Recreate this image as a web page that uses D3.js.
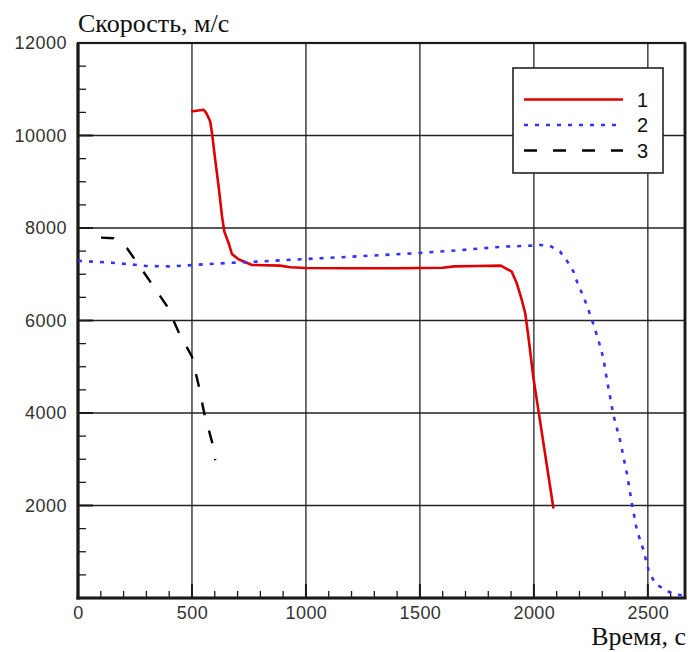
<!DOCTYPE html>
<html>
<head>
<meta charset="utf-8">
<script src="https://cdn.jsdelivr.net/npm/d3@7/dist/d3.min.js"></script>
<style>
  html, body { margin: 0; padding: 0; background: #fff; }
  svg { display: block; }
</style>
</head>
<body>
<svg id="chart" width="689" height="652"></svg>
<script>
// Time (s) / speed (m/s) samples for the three trajectories
const series1 = [
  [496, 10520], [551, 10556], [563, 10485], [580, 10303], [588, 10052],
  [602, 9474], [617, 8896], [632, 8247], [642, 7922], [661, 7671],
  [675, 7439], [704, 7325], [763, 7201], [887, 7186], [931, 7150],
  [1000, 7135], [1200, 7130], [1400, 7130], [1600, 7140], [1650, 7170],
  [1750, 7180], [1855, 7186], [1903, 7056], [1925, 6805], [1947, 6444],
  [1962, 6156], [1976, 5649], [1998, 4760], [2086, 1935]
];
const series2 = [
  [0, 7290], [150, 7250], [300, 7180], [400, 7170], [507, 7200],
  [600, 7230], [785, 7273], [1000, 7330], [1200, 7380], [1500, 7460],
  [1677, 7522], [1867, 7597], [1998, 7619], [2028, 7634], [2071, 7615],
  [2115, 7489], [2145, 7290], [2174, 7056], [2189, 6840], [2211, 6589],
  [2232, 6335], [2261, 5920], [2283, 5578], [2305, 5182], [2320, 4730],
  [2349, 3955], [2378, 3413], [2408, 2693], [2430, 2043], [2452, 1465],
  [2481, 1032], [2503, 600], [2532, 312], [2568, 203], [2605, 95], [2649, 58]
];
const series3 = [
  [101, 7792], [156, 7779], [215, 7563], [317, 6840], [390, 6314],
  [441, 5758], [500, 5216], [529, 4604], [554, 3991], [588, 3377], [602, 2980]
];

const xTickLabels = [0, 500, 1000, 1500, 2000, 2500];
const yTickLabels = [2000, 4000, 6000, 8000, 10000, 12000];
const legendLabels = ["1", "2", "3"];
const yTitle = "Скорость, м/с";
const xTitle = "Время, с";

const svg = d3.select("#chart");
const plotL = 78, plotR = 685, plotT = 43, plotB = 598;

const x = d3.scaleLinear().domain([0, 2663]).range([plotL, plotR]);
const y = d3.scaleLinear().domain([0, 12000]).range([plotB, plotT]);

const ink = "#1a1a1a";
const sans = "Liberation Sans, Arial, sans-serif";
const serif = "Liberation Serif, Times New Roman, serif";

// Grid
const grid = svg.append("g").attr("stroke", "#222").attr("stroke-width", 1.3);
d3.range(500, 2600, 500).forEach(v => {
  grid.append("line").attr("x1", x(v)).attr("x2", x(v)).attr("y1", plotT).attr("y2", plotB);
});
d3.range(2000, 12000, 2000).forEach(v => {
  grid.append("line").attr("x1", plotL).attr("x2", plotR).attr("y1", y(v)).attr("y2", y(v));
});

// Tick labels
const xAxis = d3.axisBottom(x).tickValues(xTickLabels).tickSize(0).tickPadding(8)
  .tickFormat(d3.format("d"));
const gx = svg.append("g").attr("transform", `translate(0,${plotB})`).call(xAxis);
gx.select(".domain").remove();
gx.selectAll("text").attr("font-family", sans)
  .attr("font-size", 18).attr("letter-spacing", 0.4).attr("fill", "#333");

const gy = svg.append("g").attr("transform", `translate(${plotL},0)`)
  .call(d3.axisLeft(y).tickValues(yTickLabels).tickSize(0).tickPadding(11).tickFormat(d3.format("d")));
gy.select(".domain").remove();
gy.selectAll("text").attr("font-family", sans)
  .attr("font-size", 18).attr("letter-spacing", 0.5).attr("fill", "#333");

// Minor / major ticks pointing inward
const ticks = svg.append("g").attr("stroke", ink).attr("stroke-width", 1.3);
d3.range(100, 2663, 100).forEach(v => {
  const major = v % 500 === 0;
  ticks.append("line").attr("x1", x(v)).attr("x2", x(v)).attr("y1", plotB).attr("y2", plotB - (major ? 14 : 7))
    .attr("stroke-width", major ? 2 : 1.3);
});
d3.range(500, 12000, 500).forEach(v => {
  const major = v % 2000 === 0;
  ticks.append("line").attr("x1", plotL).attr("x2", plotL + (major ? 15 : 8)).attr("y1", y(v)).attr("y2", y(v))
    .attr("stroke-width", major ? 2 : 1.3);
});

// Frame
svg.append("rect").attr("x", plotL).attr("y", plotT).attr("width", plotR - plotL).attr("height", plotB - plotT)
  .attr("fill", "none").attr("stroke", ink).attr("stroke-width", 2.2);
svg.append("line").attr("x1", plotL).attr("x2", plotL).attr("y1", plotT).attr("y2", plotB + 1.5)
  .attr("stroke", ink).attr("stroke-width", 3.2);
svg.append("line").attr("x1", plotL - 1.5).attr("x2", plotR + 1.5).attr("y1", plotB).attr("y2", plotB)
  .attr("stroke", ink).attr("stroke-width", 3.2);
svg.append("line").attr("x1", plotR).attr("x2", plotR).attr("y1", plotT).attr("y2", plotB)
  .attr("stroke", ink).attr("stroke-width", 2.8);

// Curves
const line = d3.line().x(d => x(d[0])).y(d => y(d[1]));
const styles = [
  { data: series1, color: "#dd0000", dash: null, width: 2.6 },
  { data: series2, color: "#3333ff", dash: "4,7", width: 2.6 },
  { data: series3, color: "#000000", dash: "13,16", width: 2.4 }
];
const curves = svg.append("g");
styles.forEach(s => {
  curves.append("path").datum(s.data).attr("d", line)
    .attr("fill", "none").attr("stroke", s.color).attr("stroke-width", s.width)
    .attr("stroke-dasharray", s.dash).attr("stroke-linejoin", "round");
});

// Legend
const lg = svg.append("g");
lg.append("rect").attr("x", 513).attr("y", 68).attr("width", 150).attr("height", 105)
  .attr("fill", "#fff").attr("stroke", "#222").attr("stroke-width", 1.6);
styles.forEach((s, i) => {
  const ly = 99.5 + i * 25.5;
  lg.append("line").attr("x1", 524).attr("x2", 623).attr("y1", ly).attr("y2", ly)
    .attr("stroke", s.color).attr("stroke-width", s.width).attr("stroke-dasharray", s.dash);
  lg.append("text").attr("x", 637).attr("y", ly + 7).text(legendLabels[i])
    .attr("font-family", sans).attr("font-size", 20).attr("fill", "#111");
});

// Axis titles
svg.append("text").attr("x", 78).attr("y", 32).text(yTitle)
  .attr("font-family", serif).attr("font-size", 26).attr("fill", "#111");
svg.append("text").attr("x", 686).attr("y", 645).attr("text-anchor", "end").text(xTitle)
  .attr("font-family", serif).attr("font-size", 26).attr("fill", "#111");
</script>
</body>
</html>
